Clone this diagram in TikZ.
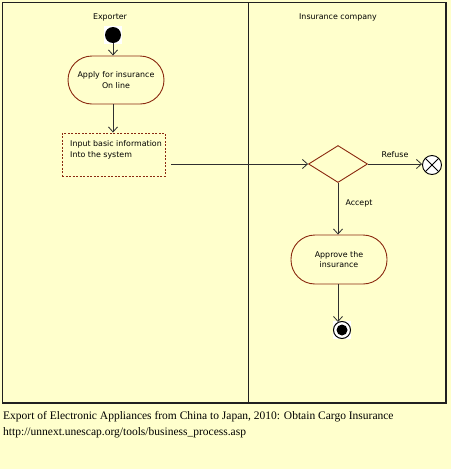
\documentclass[tikz,border=0pt]{standalone}
\usepackage{fontspec}
\setmainfont{Liberation Serif}
\newfontfamily\diagfont{DejaVu Sans}
\usetikzlibrary{shapes.geometric,arrows.meta}
\definecolor{bgcol}{HTML}{FFFFCC}
\definecolor{nodeborder}{HTML}{8B2A10}
\definecolor{lanecol}{HTML}{202020}
\definecolor{arrcol}{HTML}{303030}
\tikzset{
  every node/.style={font=\diagfont\fontsize{7.9}{10.5}\selectfont, text=black},
  lane/.style={draw=lanecol, line width=1.2pt},
  act/.style={draw=nodeborder, line width=0.9pt, fill=bgcol, rounded corners=24pt, minimum width=96pt, minimum height=48pt, align=center, inner sep=0pt},
  dashedbox/.style={draw=nodeborder, line width=0.9pt, dashed, dash pattern=on 2pt off 1.5pt, minimum width=103pt, minimum height=43pt, inner sep=0pt},
  decision/.style={diamond, draw=nodeborder, line width=0.9pt, fill=bgcol, minimum width=59pt, minimum height=37pt, inner sep=0pt},
  arr/.style={draw=arrcol, line width=0.8pt, -{Straight Barb[length=5pt,width=9pt]}},
  caption/.style={font=\rmfamily\fontsize{11.5}{13}\selectfont, anchor=west, inner sep=0pt},
  plain/.style={inner sep=0pt}
}
\begin{document}
\begin{tikzpicture}[x=1pt, y=-1pt]
\useasboundingbox (0,0) rectangle (451,469);
\fill[bgcol] (0,0) rectangle (451,469);
% swimlanes
\draw[lane] (2.5,2.5) rectangle (446,403);
\draw[lane] (248.5,2.5) -- (248.5,403);
\node[plain] (exporter) at (110,17) {Exporter};
\node[plain] (insco) at (338,17) {Insurance company};
% start
\fill[white] (104,26) rectangle (122,44);
\node[circle, fill=black, minimum size=16pt, inner sep=0pt] (start) at (113,35) {};
% apply
\node[act] (apply) at (116,80) {Apply for insurance\\On line};
% input
\node[dashedbox] (input) at (113.5,154.5) {};
\node[plain, anchor=west, align=left] (inputtext) at (70,150) {Input basic information\\Into the system};
% decision
\node[decision] (dec) at (338,164) {};
% reject
\node[circle, draw=black, line width=0.9pt, fill=white, minimum size=19pt, inner sep=0pt,
  path picture={\draw[line width=0.9pt] (path picture bounding box.south west) -- (path picture bounding box.north east)
  (path picture bounding box.north west) -- (path picture bounding box.south east);}] (rej) at (432,165) {};
% approve
\node[act, minimum height=49pt] (approve) at (339,259.5) {Approve the\\insurance};
% end
\fill[white] (333,321) rectangle (351,339);
\node[circle, draw=black, line width=1pt, fill=white, minimum size=17pt, inner sep=0pt] (endnode) at (342,330) {};
\node[circle, fill=black, minimum size=11pt, inner sep=0pt] (endin) at (342,330) {};
% connectors
\draw[arr] (start.south) -- (start.south |- apply.north);
\draw[arr] (apply.south -| start) -- (input.north -| start);
\coordinate (lstart) at (171,164);
\draw[arr] (lstart) -- (dec.west);
\draw[arr] (dec.east) -- (dec.east -| rej.west);
\node[plain] (refuse) at (395,155) {Refuse};
\draw[arr] (dec.south) -- (dec.south |- approve.north);
\node[plain] (accept) at (359,203) {Accept};
\draw[arr] (approve.south -| dec) -- ([yshift=-1pt]endnode.north -| dec);
% caption
\node[caption] (cap1) at (3,417) {Export of Electronic Appliances from China to Japan, 2010: Obtain Cargo Insurance};
\node[caption] (cap2) at (3,433) {http://unnext.unescap.org/tools/business\_process.asp};
\end{tikzpicture}
\end{document}
